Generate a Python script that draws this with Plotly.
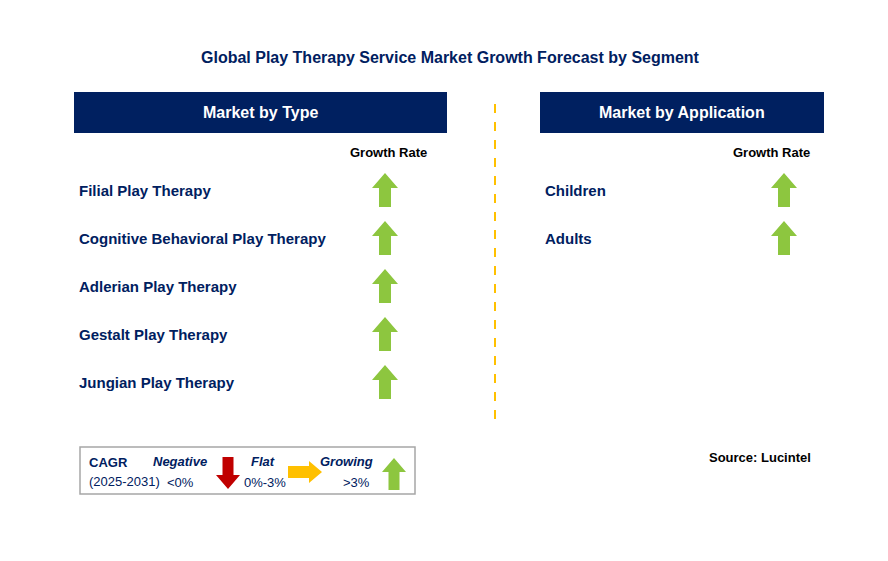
import plotly.graph_objects as go

title = "Global Play Therapy Service Market Growth Forecast by Segment"
type_labels = ["Filial Play Therapy", "Cognitive Behavioral Play Therapy",
               "Adlerian Play Therapy", "Gestalt Play Therapy", "Jungian Play Therapy"]
app_labels = ["Children", "Adults"]
type_trend = ["up"] * 5
app_trend = ["up"] * 2

NAVY = "#002060"
GREEN = "#8DC63F"
RED = "#C00000"
YELLOW = "#FFC000"
FONT = "Liberation Sans"

fig = go.Figure()
shapes, ann = [], []


def arrow(cx, cy, kind, length=34, head_w=26, shaft_w=12, head_h=15):
    h = length / 2
    if kind == "up":
        pts = [(cx - shaft_w/2, cy + h), (cx - shaft_w/2, cy - h + head_h), (cx - head_w/2, cy - h + head_h),
               (cx, cy - h), (cx + head_w/2, cy - h + head_h), (cx + shaft_w/2, cy - h + head_h),
               (cx + shaft_w/2, cy + h)]
        col = GREEN
    elif kind == "down":
        pts = [(cx - shaft_w/2, cy - h), (cx - shaft_w/2, cy + h - head_h), (cx - head_w/2, cy + h - head_h),
               (cx, cy + h), (cx + head_w/2, cy + h - head_h), (cx + shaft_w/2, cy + h - head_h),
               (cx + shaft_w/2, cy - h)]
        col = RED
    else:
        pts = [(cx - h, cy - shaft_w/2), (cx + h - head_h, cy - shaft_w/2), (cx + h - head_h, cy - head_w/2),
               (cx + h, cy), (cx + h - head_h, cy + head_w/2), (cx + h - head_h, cy + shaft_w/2),
               (cx - h, cy + shaft_w/2)]
        col = YELLOW
    path = "M " + " L ".join(f"{x},{y}" for x, y in pts) + " Z"
    shapes.append(dict(type="path", path=path, xref="x", yref="y", fillcolor=col, line=dict(width=0)))


def text(x, y, s, size=15, bold=True, italic=False, anchor="left", color=NAVY):
    if bold:
        s = f"<b>{s}</b>"
    if italic:
        s = f"<i>{s}</i>"
    ann.append(dict(x=x, y=y, xref="x", yref="y", text=s, showarrow=False, xanchor=anchor,
                    yanchor="middle", font=dict(family=FONT, size=size, color=color)))


text(450, 57, title, size=16, anchor="center")

# headers
for x0, x1, label in [(74, 447, "Market by Type"), (540, 824, "Market by Application")]:
    shapes.append(dict(type="rect", x0=x0, x1=x1, y0=92, y1=133, xref="x", yref="y",
                       fillcolor=NAVY, line=dict(width=0)))
    text((x0 + x1) / 2, 112, label, size=16, anchor="center", color="white")

text(388, 152, "Growth Rate", size=13, anchor="center", color="black")
text(771, 152, "Growth Rate", size=13, anchor="center", color="black")

for i, (lab, tr) in enumerate(zip(type_labels, type_trend)):
    y = 190 + 48 * i
    text(77, y, lab)
    arrow(385, y, tr)

for i, (lab, tr) in enumerate(zip(app_labels, app_trend)):
    y = 190 + 48 * i
    text(543, y, lab)
    arrow(784, y, tr)

shapes.append(dict(type="line", x0=495, x1=495, y0=104, y1=420, xref="x", yref="y",
                   line=dict(color=YELLOW, width=2, dash="dash")))

# legend
shapes.append(dict(type="rect", x0=80, x1=415, y0=447, y1=494, xref="x", yref="y",
                   fillcolor="white", line=dict(color="#A6A6A6", width=1.5)))
text(87, 462, "CAGR", size=13)
text(87, 481, "(2025-2031)", size=13, bold=False)
text(180, 461, "Negative", size=13, italic=True, anchor="center")
text(180, 482, "&lt;0%", size=13, bold=False, anchor="center")
arrow(228, 473, "down", length=32, head_w=24, shaft_w=11, head_h=14)
text(263, 461, "Flat", size=13, italic=True, anchor="center")
text(265, 482, "0%-3%", size=13, bold=False, anchor="center")
arrow(305, 472, "right", length=34, head_w=22, shaft_w=12, head_h=13)
text(346, 461, "Growing", size=13, italic=True, anchor="center")
text(356, 482, "&gt;3%", size=13, bold=False, anchor="center")
arrow(394, 474, "up", length=32, head_w=24, shaft_w=11, head_h=14)

text(760, 457, "Source: Lucintel", size=13, anchor="center", color="black")

# page body adds an 8px offset, so shift the coordinate window to compensate
fig.update_layout(
    width=888, height=561, margin=dict(l=0, r=0, t=0, b=0),
    paper_bgcolor="white", plot_bgcolor="white",
    xaxis=dict(range=[8, 896], visible=False, fixedrange=True),
    yaxis=dict(range=[569, 8], visible=False, fixedrange=True),
    shapes=shapes, annotations=ann, showlegend=False,
)
fig.write_html("out.html")
